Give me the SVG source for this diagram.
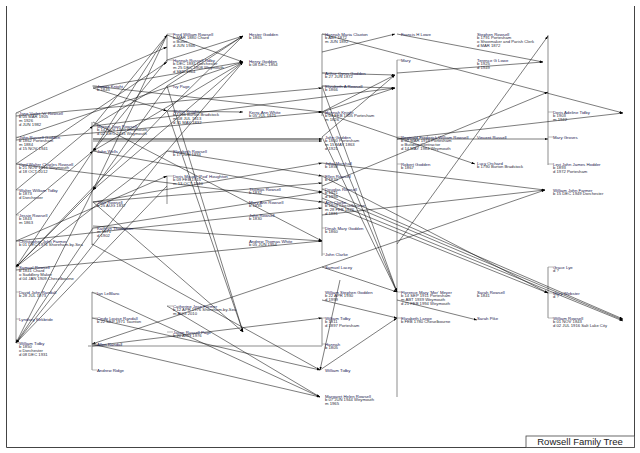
<svg xmlns="http://www.w3.org/2000/svg" width="640" height="453" viewBox="0 0 640 453">
<style>
.n{font-family:"Liberation Sans",Arial,sans-serif;font-size:4.3px;fill:#1a2050}
.d{font-family:"Liberation Sans",Arial,sans-serif;font-size:4.2px;fill:#2a2a3a}
.br{stroke:#b4b4b4;stroke-width:1.5;fill:none}
.tk{stroke:#888;stroke-width:0.6;fill:none}
.c line{stroke:#111;stroke-width:0.55;marker-end:url(#a)}
.fr{stroke:#444;stroke-width:1;fill:none}
.tt{font-family:"Liberation Sans",Arial,sans-serif;font-size:9.5px;fill:#222}
</style>
<defs>
<marker id="a" viewBox="0 0 6 4" refX="6" refY="2" markerWidth="3.5" markerHeight="2.4" orient="auto" markerUnits="userSpaceOnUse"><path d="M0,0L6,2L0,4z" fill="#000"/></marker>
</defs>
<rect width="640" height="453" fill="#fff"/>
<path class="fr" d="M6.5,6V447.5H634.5V6"/>
<g id="title"><rect x="526" y="436" width="108.5" height="11.5" fill="#fff" stroke="#444" stroke-width="0.8"/><text class="tt" x="580" y="445" text-anchor="middle">Rowsell Family Tree</text></g>

<g id="brackets">
<path class="br" d="M16,113V343M92,122V245M92,292V370M167,34V62M167,176V204M322,34V116M322,176V256M322,318V346M397,60V397M548,35V165M548,267V318M88,346H322"/>
</g>

<g class="c" id="connectors">
<line x1="16" y1="113" x2="167" y2="47"/>
<line x1="16" y1="138" x2="243" y2="62"/>
<line x1="16" y1="164" x2="167" y2="62"/>
<line x1="93" y1="88" x2="167" y2="111"/>
<line x1="93" y1="88" x2="243" y2="62"/>
<line x1="93" y1="126" x2="167" y2="35"/>
<line x1="93" y1="126" x2="243" y2="36"/>
<line x1="167" y1="35" x2="93" y2="151"/>
<line x1="167" y1="60" x2="93" y2="151"/>
<line x1="243" y1="62" x2="93" y2="151"/>
<line x1="167" y1="86" x2="243" y2="36"/>
<line x1="167" y1="111" x2="243" y2="36"/>
<line x1="167" y1="35" x2="243" y2="62"/>
<line x1="167" y1="60" x2="243" y2="36"/>
<line x1="167" y1="151" x2="243" y2="62"/>
<line x1="167" y1="35" x2="93" y2="190"/>
<line x1="167" y1="86" x2="93" y2="190"/>
<line x1="243" y1="62" x2="93" y2="190"/>
<line x1="16" y1="190" x2="93" y2="126"/>
<line x1="16" y1="215" x2="93" y2="151"/>
<line x1="93" y1="151" x2="16" y2="267"/>
<line x1="93" y1="190" x2="16" y2="267"/>
<line x1="167" y1="111" x2="16" y2="267"/>
<line x1="167" y1="151" x2="16" y2="267"/>
<line x1="16" y1="241" x2="167" y2="176"/>
<line x1="93" y1="190" x2="16" y2="343"/>
<line x1="167" y1="151" x2="16" y2="343"/>
<line x1="167" y1="186" x2="16" y2="343"/>
<line x1="93" y1="228" x2="16" y2="343"/>
<line x1="93" y1="139" x2="322" y2="139" style="stroke-width:0.9"/>
<line x1="93" y1="141" x2="322" y2="141"/>
<line x1="93" y1="86" x2="322" y2="112"/>
<line x1="16" y1="116" x2="322" y2="88"/>
<line x1="93" y1="126" x2="395" y2="88"/>
<line x1="16" y1="140" x2="322" y2="112"/>
<line x1="167" y1="111" x2="243" y2="112"/>
<line x1="167" y1="151" x2="322" y2="176"/>
<line x1="93" y1="202" x2="322" y2="163"/>
<line x1="93" y1="151" x2="322" y2="192"/>
<line x1="16" y1="164" x2="322" y2="202"/>
<line x1="93" y1="202" x2="322" y2="183"/>
<line x1="93" y1="228" x2="322" y2="192"/>
<line x1="16" y1="241" x2="322" y2="208"/>
<line x1="93" y1="226" x2="322" y2="241"/>
<line x1="16" y1="270" x2="322" y2="241"/>
<line x1="93" y1="122" x2="322" y2="241"/>
<line x1="167" y1="86" x2="243" y2="332"/>
<line x1="167" y1="111" x2="243" y2="332"/>
<line x1="93" y1="202" x2="243" y2="332"/>
<line x1="92" y1="244" x2="320" y2="370"/>
<line x1="322" y1="34" x2="623" y2="113"/>
<line x1="397" y1="139" x2="623" y2="113"/>
<line x1="397" y1="244" x2="548" y2="36"/>
<line x1="397" y1="34" x2="543" y2="62"/>
<line x1="397" y1="73" x2="543" y2="62"/>
<line x1="322" y1="112" x2="395" y2="75"/>
<line x1="322" y1="112" x2="395" y2="88"/>
<line x1="322" y1="137" x2="395" y2="75"/>
<line x1="322" y1="86" x2="395" y2="88"/>
<line x1="322" y1="73" x2="395" y2="75"/>
<line x1="322" y1="52" x2="395" y2="34"/>
<line x1="397" y1="139" x2="548" y2="139"/>
<line x1="322" y1="112" x2="397" y2="292"/>
<line x1="322" y1="137" x2="397" y2="292"/>
<line x1="322" y1="86" x2="397" y2="292"/>
<line x1="322" y1="267" x2="397" y2="292"/>
<line x1="322" y1="163" x2="545" y2="190"/>
<line x1="322" y1="215" x2="545" y2="190"/>
<line x1="322" y1="267" x2="545" y2="190"/>
<line x1="322" y1="189" x2="623" y2="319"/>
<line x1="322" y1="193" x2="623" y2="320"/>
<line x1="322" y1="198" x2="623" y2="321"/>
<line x1="322" y1="176" x2="548" y2="293"/>
<line x1="322" y1="202" x2="548" y2="293"/>
<line x1="322" y1="186" x2="548" y2="92"/>
<line x1="322" y1="112" x2="475" y2="164"/>
<line x1="322" y1="300" x2="397" y2="318"/>
<line x1="320" y1="370" x2="397" y2="318"/>
<line x1="397" y1="300" x2="477" y2="320"/>
<line x1="340" y1="280" x2="320" y2="370"/>
<line x1="92" y1="344" x2="320" y2="397"/>
<line x1="92" y1="292" x2="320" y2="397"/>
<line x1="167" y1="306" x2="320" y2="397"/>
<line x1="92" y1="346" x2="322" y2="318"/>
<line x1="322" y1="267" x2="92" y2="344"/>
<line x1="92" y1="318" x2="320" y2="370"/>
</g>

<g id="n1"><path class="tk" d="M16,113H19"/><text class="n" x="19" y="114.5">Jane Violet 'Vi' Rowsell</text><text class="d" x="19" y="118.4">b  05 MAR 1905</text><text class="d" x="19" y="122.3">m  1926</text><text class="d" x="19" y="126.2">d  JUN 1982</text></g>
<g id="n2"><path class="tk" d="M16,137H19"/><text class="n" x="19" y="138.5">John Russell Godden</text><text class="d" x="19" y="142.4">b  1862 Portesham</text><text class="d" x="19" y="146.3">m  1884</text><text class="d" x="19" y="150.2">d  15 NOV 1941</text></g>
<g id="n3"><path class="tk" d="M16,164H19"/><text class="n" x="19" y="165.5">Cyril Walter Charles Rowsell</text><text class="d" x="19" y="169.4">b  21 NOV 1916 Weymouth</text><text class="d" x="19" y="173.3">d  18 OCT 2012</text></g>
<g id="n4"><path class="tk" d="M16,190H19"/><text class="n" x="19" y="191.5">Walter William Tidby</text><text class="d" x="19" y="195.4">b  1873</text><text class="d" x="19" y="199.3">d  Dorchester</text></g>
<g id="n5"><path class="tk" d="M16,215H19"/><text class="n" x="19" y="216.5">Jessie Rowsell</text><text class="d" x="19" y="220.4">b  1843</text><text class="d" x="19" y="224.3">m  1863</text></g>
<g id="n6"><path class="tk" d="M16,241H19"/><text class="n" x="19" y="242.5">Christopher John Farmer</text><text class="d" x="19" y="246.4">b  01 DEC 1976 Shoreham-by-Sea</text></g>
<g id="n7"><path class="tk" d="M16,267H19"/><text class="n" x="19" y="268.5">Samuel Rowsell</text><text class="d" x="19" y="272.4">b  1841 Chard</text><text class="d" x="19" y="276.3">o  Saddlery Maker</text><text class="d" x="19" y="280.2">d  04 JAN 1909 Cheselbourne</text></g>
<g id="n8"><path class="tk" d="M16,292H19"/><text class="n" x="19" y="293.5">David John Randall</text><text class="d" x="19" y="297.4">b  28 JUL 1973</text></g>
<g id="n9"><path class="tk" d="M16,319H19"/><text class="n" x="19" y="320.5">Lyndsey Kirkbride</text></g>
<g id="n10"><path class="tk" d="M16,343H19"/><text class="n" x="19" y="344.5">William Tidby</text><text class="d" x="19" y="348.4">b  1850</text><text class="d" x="19" y="352.3">o  Dorchester</text><text class="d" x="19" y="356.2">d  08 DEC 1931</text></g>

<g id="n11"><path class="tk" d="M92,86H97"/><text class="n" x="97" y="87.5">James Knight</text><text class="d" x="97" y="91.4">b  1845</text></g>
<g id="n12"><path class="tk" d="M92,126H97"/><text class="n" x="97" y="127.5">Marion Joan Rowsell</text><text class="d" x="97" y="131.4">b  14 NOV 1940 Weymouth</text><text class="d" x="97" y="135.3">d  02 DEC 2015 Weymouth</text></g>
<g id="n13"><path class="tk" d="M92,151H97"/><text class="n" x="97" y="152.5">John Wells</text></g>
<g id="n14"><path class="tk" d="M92,202H97"/><text class="n" x="97" y="203.5">Jane Rowsell</text><text class="d" x="97" y="207.4">b  25 AUG 1837</text></g>
<g id="n15"><path class="tk" d="M92,228H97"/><text class="n" x="97" y="229.5">Kathryn Thompson</text><text class="d" x="97" y="233.4">m  1871</text><text class="d" x="97" y="237.3">d  1902</text></g>
<g id="n16"><path class="tk" d="M92,293H97"/><text class="n" x="97" y="294.5">Ian LeBlanc</text></g>
<g id="n17"><path class="tk" d="M92,318H97"/><text class="n" x="97" y="319.5">Cindy Louise Randall</text><text class="d" x="97" y="323.4">b  22 SEP 1971 Taunton</text></g>
<g id="n18"><path class="tk" d="M92,344H97"/><text class="n" x="97" y="345.5">Allen Randall</text></g>
<g id="n19"><path class="tk" d="M92,370H97"/><text class="n" x="97" y="371.5">Andrew Ridge</text></g>

<g id="n20"><path class="tk" d="M167,34H173"/><text class="n" x="173" y="35.5">Fred William Rowsell</text><text class="d" x="173" y="39.4">b  MAR 1880 Chard</text><text class="d" x="173" y="43.3">o  Butler</text><text class="d" x="173" y="47.2">d  JUN 1946</text></g>
<g id="n21"><path class="tk" d="M167,60H173"/><text class="n" x="173" y="61.5">Hannah Russell Tidby</text><text class="d" x="173" y="65.4">b  DEC 1881 Dorchester</text><text class="d" x="173" y="69.3">m  25 DEC 1908 Weymouth</text><text class="d" x="173" y="73.2">d  SEP 1964</text></g>
<g id="n22"><path class="tk" d="M167,86H173"/><text class="n" x="173" y="87.5">Ivy Page</text></g>
<g id="n23"><path class="tk" d="M167,111H173"/><text class="n" x="173" y="112.5">Walter Knight</text><text class="d" x="173" y="116.4">b  1756 Burton Bradstock</text><text class="d" x="173" y="120.3">m  08 JUL 1813</text><text class="d" x="173" y="124.2">d  31 MAY 1832</text></g>
<g id="n24"><path class="tk" d="M167,151H173"/><text class="n" x="173" y="152.5">Elizabeth Rowsell</text><text class="d" x="173" y="156.4">b  17 JUN 1834</text></g>
<g id="n25"><path class="tk" d="M167,176H173"/><text class="n" x="173" y="177.5">Doris Maude 'Pod' Houghton</text><text class="d" x="173" y="181.4">b  09 FEB 1915</text><text class="d" x="173" y="185.3">m  13 OCT 1940</text></g>
<g id="n26"><path class="tk" d="M167,306H173"/><text class="n" x="173" y="307.5">Catherine Jean Farmer</text><text class="d" x="173" y="311.4">b  12 APR 1976 Shoreham-by-Sea</text><text class="d" x="173" y="315.3">m  AUG 2010</text></g>
<g id="n27"><path class="tk" d="M167,332H173"/><text class="n" x="173" y="333.5">Jason Russell Page</text><text class="d" x="173" y="337.4">b  20 AUG 1976</text></g>

<g id="n28"><text class="n" x="249" y="35.5">Hester Godden</text><text class="d" x="249" y="39.4">b  1865</text></g>
<g id="n29"><text class="n" x="249" y="62.5">Henry Godden</text><text class="d" x="249" y="66.4">b  08 DEC 1854</text></g>
<g id="n30"><text class="n" x="249" y="113.5">Kerry-Ann White</text><text class="d" x="249" y="117.4">b  05 JUL 1971</text></g>
<g id="n31"><text class="n" x="249" y="190.5">Thomas Rowsell</text><text class="d" x="249" y="194.4">b  1832</text></g>
<g id="n32"><text class="n" x="249" y="203.5">Mary Ann Rowsell</text><text class="d" x="249" y="207.4">b  1835</text></g>
<g id="n33"><text class="n" x="249" y="216.5">John Rowsell</text><text class="d" x="249" y="220.4">b  1830</text></g>
<g id="n34"><text class="n" x="249" y="242.5">Andrew Thomas White</text><text class="d" x="249" y="246.4">b  05 JUN 1954</text></g>

<g id="n35"><path class="tk" d="M322,34H325"/><text class="n" x="325" y="35.5">Hannah Maria Claxton</text><text class="d" x="325" y="39.4">b  ABT 1872</text><text class="d" x="325" y="43.3">m  JUN 1892</text></g>
<g id="n36"><path class="tk" d="M322,73H325"/><text class="n" x="325" y="74.5">Arthur Cyrus Godden</text><text class="d" x="325" y="78.4">b  27 JUN 1872</text></g>
<g id="n37"><path class="tk" d="M322,86H325"/><text class="n" x="325" y="87.5">Elizabeth A Rowsell</text><text class="d" x="325" y="91.4">b  1866</text></g>
<g id="n38"><path class="tk" d="M322,112H325"/><text class="n" x="325" y="113.5">Hannah Knight</text><text class="d" x="325" y="117.4">b  01 FEB 1805 Portesham</text><text class="d" x="325" y="121.3">m  1826</text></g>
<g id="n39"><text class="n" x="325" y="138.5">John Godden</text><text class="d" x="325" y="142.4">b  1840 Portesham</text><text class="d" x="325" y="146.3">m  15 MAY 1863</text><text class="d" x="325" y="150.2">d  1921</text></g>
<g id="n40"><text class="n" x="325" y="164.5">John Marshall</text><text class="d" x="325" y="168.4">b  1858</text></g>
<g id="n41"><path class="tk" d="M322,176H325"/><text class="n" x="325" y="177.5">Ellen Rowsell</text><text class="d" x="325" y="181.4">b  1870</text></g>
<g id="n42"><path class="tk" d="M322,189H325"/><text class="n" x="325" y="190.5">Douglas Rowsell</text><text class="d" x="325" y="194.4">b  1921</text><text class="d" x="325" y="198.3">d  1994</text></g>
<g id="n43"><path class="tk" d="M322,202H325"/><text class="n" x="325" y="203.5">Ann Clarke</text><text class="d" x="325" y="207.4">b  1803 Cheselbourne</text><text class="d" x="325" y="211.3">m  28 FEB 1826</text><text class="d" x="325" y="215.2">d  1881</text></g>
<g id="n44"><path class="tk" d="M322,228H325"/><text class="n" x="325" y="229.5">Dinah Mary Godden</text><text class="d" x="325" y="233.4">b  1860</text></g>
<g id="n45"><path class="tk" d="M322,254H325"/><text class="n" x="325" y="255.5">John Clarke</text></g>
<g id="n46"><text class="n" x="325" y="268.5">Samuel Lacey</text></g>
<g id="n47"><text class="n" x="325" y="293.5">William Stephen Godden</text><text class="d" x="325" y="297.4">b  22 APR 1930</text><text class="d" x="325" y="301.3">d  1999</text></g>
<g id="n48"><path class="tk" d="M322,318H325"/><text class="n" x="325" y="319.5">William Tidby</text><text class="d" x="325" y="323.4">b  1811</text><text class="d" x="325" y="327.3">d  1897 Portesham</text></g>
<g id="n49"><path class="tk" d="M322,344H325"/><text class="n" x="325" y="345.5">Hannah</text><text class="d" x="325" y="349.4">b  1805</text></g>
<g id="n50"><text class="n" x="325" y="371.5">William Tidby</text></g>
<g id="n51"><text class="n" x="325" y="397.5">Margaret Helen Rowsell</text><text class="d" x="325" y="401.4">b  07 JUN 1944 Weymouth</text><text class="d" x="325" y="405.3">m  1965</text></g>

<g id="n52"><text class="n" x="401" y="35.5">Francis H Lowe</text></g>
<g id="n53"><path class="tk" d="M397,60H401"/><text class="n" x="401" y="61.5">Mary</text></g>
<g id="n54"><path class="tk" d="M397,137H401"/><text class="n" x="401" y="138.5">Reginald Frederick William Rowsell</text><text class="d" x="401" y="142.4">b  02 MAR 1918 Portesham</text><text class="d" x="401" y="146.3">o  Building Contractor</text><text class="d" x="401" y="150.2">d  14 MAY 1984 Weymouth</text></g>
<g id="n55"><path class="tk" d="M397,164H401"/><text class="n" x="401" y="165.5">Robert Godden</text><text class="d" x="401" y="169.4">b  1867</text></g>
<g id="n56"><path class="tk" d="M397,292H401"/><text class="n" x="401" y="293.5">Florence Mary 'Mor' Meyer</text><text class="d" x="401" y="297.4">b  14 SEP 1911 Portesham</text><text class="d" x="401" y="301.3">m  ABT 1939 Weymouth</text><text class="d" x="401" y="305.2">d  21 FEB 1994 Weymouth</text></g>
<g id="n57"><path class="tk" d="M397,318H401"/><text class="n" x="401" y="319.5">Elizabeth Lange</text><text class="d" x="401" y="323.4">b  FEB 1780 Cheselbourne</text></g>

<g id="n58"><text class="n" x="477" y="35.5">Stephen Rowsell</text><text class="d" x="477" y="39.4">b  1791 Portesham</text><text class="d" x="477" y="43.3">o  Shoemaker and Parish Clerk</text><text class="d" x="477" y="47.2">d  MAR 1872</text></g>
<g id="n59"><text class="n" x="477" y="61.5">Terence G Lowe</text><text class="d" x="477" y="65.4">b  1925</text><text class="d" x="477" y="69.3">d  1949</text></g>
<g id="n60"><text class="n" x="477" y="138.5">Vincent Russell</text></g>
<g id="n61"><text class="n" x="477" y="164.5">Lucy Orchard</text><text class="d" x="477" y="168.4">b  1790 Burton Bradstock</text></g>
<g id="n62"><text class="n" x="477" y="293.5">Sarah Rowsell</text><text class="d" x="477" y="297.4">b  1841</text></g>
<g id="n63"><text class="n" x="477" y="319.5">Sarah Pike</text></g>

<g id="n64"><path class="tk" d="M548,112H553"/><text class="n" x="553" y="113.5">Doris Adeline Tidby</text><text class="d" x="553" y="117.4">b  1903</text><text class="d" x="553" y="121.3">m  1942</text></g>
<g id="n65"><path class="tk" d="M548,137H553"/><text class="n" x="553" y="138.5">Mary Groves</text></g>
<g id="n66"><path class="tk" d="M548,164H553"/><text class="n" x="553" y="165.5">Levi John James Hodder</text><text class="d" x="553" y="169.4">b  1893</text><text class="d" x="553" y="173.3">d  1972 Portesham</text></g>
<g id="n67"><text class="n" x="553" y="191.5">William John Farmer</text><text class="d" x="553" y="195.4">b  15 DEC 1949 Dorchester</text></g>
<g id="n68"><path class="tk" d="M548,267H553"/><text class="n" x="553" y="268.5">Grace Lye</text><text class="d" x="553" y="272.4">d  ?</text></g>
<g id="n69"><path class="tk" d="M548,293H553"/><text class="n" x="553" y="294.5">Mary Webster</text><text class="d" x="553" y="298.4">d  ?</text></g>
<g id="n70"><path class="tk" d="M548,318H553"/><text class="n" x="553" y="319.5">William Rowsell</text><text class="d" x="553" y="323.4">b  01 NOV 1843</text><text class="d" x="553" y="327.3">d  02 JUL 1916 Salt Lake City</text></g>
</svg>
